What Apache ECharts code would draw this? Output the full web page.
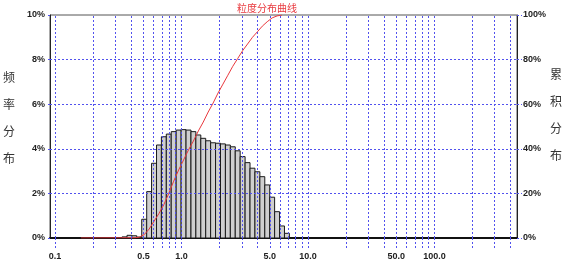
<!DOCTYPE html>
<html><head><meta charset="utf-8">
<script src="https://cdn.jsdelivr.net/npm/echarts@6/dist/echarts.min.js"></script>
<style>html,body{margin:0;padding:0;background:#fff}#c{width:563px;height:264px}</style>
</head><body><div id="c"></div>
<script>
// particle size class edges (µm) and frequency (%) per class
const binEdges = [0.339,0.371,0.405,0.443,0.485,0.531,0.580,0.635,0.694,0.759,0.830,0.908,0.994,1.087,1.189,1.300,1.422,1.555,1.701,1.860,2.035,2.226,2.435,2.663,2.912,3.186,3.484,3.811,4.168,4.559,4.986,5.453,5.965,6.524,7.136];
const freqPct = [0.05,0.12,0.10,0.04,0.84,2.08,3.35,4.17,4.54,4.66,4.77,4.84,4.86,4.84,4.77,4.62,4.47,4.36,4.27,4.25,4.22,4.17,4.09,3.91,3.65,3.38,3.13,2.97,2.75,2.38,1.83,1.18,0.54,0.21];
// cumulative curve (size, %)
const cumSize = [0.16,0.43,0.464,0.507,0.555,0.607,0.664,0.726,0.794,0.868,0.950,1.039,1.137,1.243,1.360,1.487,1.627,1.779,1.946,2.128,2.328,2.546,2.785,3.046,3.332,3.644,3.986,4.359,4.768,5.215,5.704,6.239];
const cumPct  = [0,0.1,0.4,1.5,4,7.5,11,15,20,25.5,30.5,35,39.5,43.5,48,52,56.5,60.5,65,69,73,77,80.5,84,87,90,92.5,95,97,98.7,99.6,100];
// axes
const xGridValues = [0.1,0.2,0.3,0.4,0.5,0.6,0.7,0.8,0.9,1,2,3,4,5,6,7,8,9,10,20,30,40,50,60,70,80,90,100,200,300,400];
const xLabelValues = [0.1,0.5,1,5,10,50,100];
const xLabelTexts = ['0.1','0.5','1.0','5.0','10.0','50.0','100.0'];
const leftTicks = [0,2,4,6,8,10];
const yGridValues = [2,4,6,8];
const rightTicks = [0,20,40,60,80,100];
const titleText = '粒度分布曲线';
const leftName = ['频','率','分','布'];
const rightName = ['累','积','分','布'];

const barData = freqPct.map((v, i) => [binEdges[i], binEdges[i + 1], v]);
const cumData = cumSize.map((s, i) => [s, cumPct[i]]);

const gridBlue = '#5252ee';
const dotted = {color: gridBlue, width: 1, type: [2, 2]};
const lblFont = {fontFamily: 'Liberation Sans', fontWeight: 'bold', fontSize: 9, color: '#222'};

const chart = echarts.init(document.getElementById('c'), null, {renderer: 'canvas'});
chart.setOption({
  animation: false,
  backgroundColor: '#fff',
  grid: {left: 50, right: 46, top: 15, bottom: 26, show: true, borderColor: '#555', borderWidth: 1, backgroundColor: 'transparent'},
  xAxis: {
    type: 'log', logBase: 10, min: 0.0913, max: 450,
    axisLine: {show: true, lineStyle: {color: '#111', width: 2}},
    axisTick: {show: true, length: 12, customValues: xGridValues, lineStyle: dotted},
    axisLabel: Object.assign({margin: 14, customValues: xLabelValues,
      formatter: function (v) {
        let best = 0, d = Infinity;
        xLabelValues.forEach((x, i) => { const dd = Math.abs(Math.log(x) - Math.log(v)); if (dd < d) { d = dd; best = i; } });
        return xLabelTexts[best];
      }}, lblFont),
    splitLine: {show: false},
    minorTick: {show: false}, minorSplitLine: {show: false}
  },
  yAxis: [
    {type: 'value', min: 0, max: 10, interval: 2, position: 'left',
     axisLine: {show: true, lineStyle: {color: '#222', width: 1}},
     axisTick: {show: true, length: 3, lineStyle: dotted},
     axisLabel: Object.assign({margin: 5, formatter: v => v + '%'}, lblFont),
     splitLine: {show: false}},
    {type: 'value', min: 0, max: 100, interval: 20, position: 'right',
     axisLine: {show: true, lineStyle: {color: '#222', width: 1}},
     axisTick: {show: true, length: 5, lineStyle: dotted},
     axisLabel: Object.assign({margin: 6, formatter: v => v + '%'}, lblFont),
     splitLine: {show: false}}
  ],
  series: [
    {
      type: 'custom', xAxisIndex: 0, yAxisIndex: 0,
      data: barData,
      encode: {x: [0, 1], y: 2},
      renderItem: function (params, api) {
        const p0 = api.coord([api.value(0), api.value(2)]);
        const p1 = api.coord([api.value(1), 0]);
        return {
          type: 'rect',
          shape: {x: p0[0], y: p0[1], width: p1[0] - p0[0], height: p1[1] - p0[1]},
          style: {fill: '#cfcfcf', stroke: '#1a1a1a', lineWidth: 1}
        };
      },
      markLine: {
        silent: true, symbol: 'none', label: {show: false},
        lineStyle: dotted,
        data: xGridValues.map(v => ({xAxis: v})).concat(yGridValues.map(v => ({yAxis: v})))
      },
      z: 2
    },
    {
      type: 'line', xAxisIndex: 0, yAxisIndex: 1,
      data: cumData, showSymbol: false, smooth: false,
      lineStyle: {color: '#e8383d', width: 1}, itemStyle: {color: '#e8383d'},
      z: 3
    }
  ],
  graphic: [
    {type: 'text', left: 237, top: 3, style: {text: titleText, fill: '#e8383d', font: '10px "Noto Sans CJK SC"'}},
    {type: 'text', left: 3, top: 64, style: {text: leftName.join('\n'), fill: '#333', font: '12px "Noto Sans CJK SC"', lineHeight: 27}},
    {type: 'text', left: 550, top: 61, style: {text: rightName.join('\n'), fill: '#333', font: '12px "Noto Sans CJK SC"', lineHeight: 27}}
  ]
});
</script>
</body></html>
